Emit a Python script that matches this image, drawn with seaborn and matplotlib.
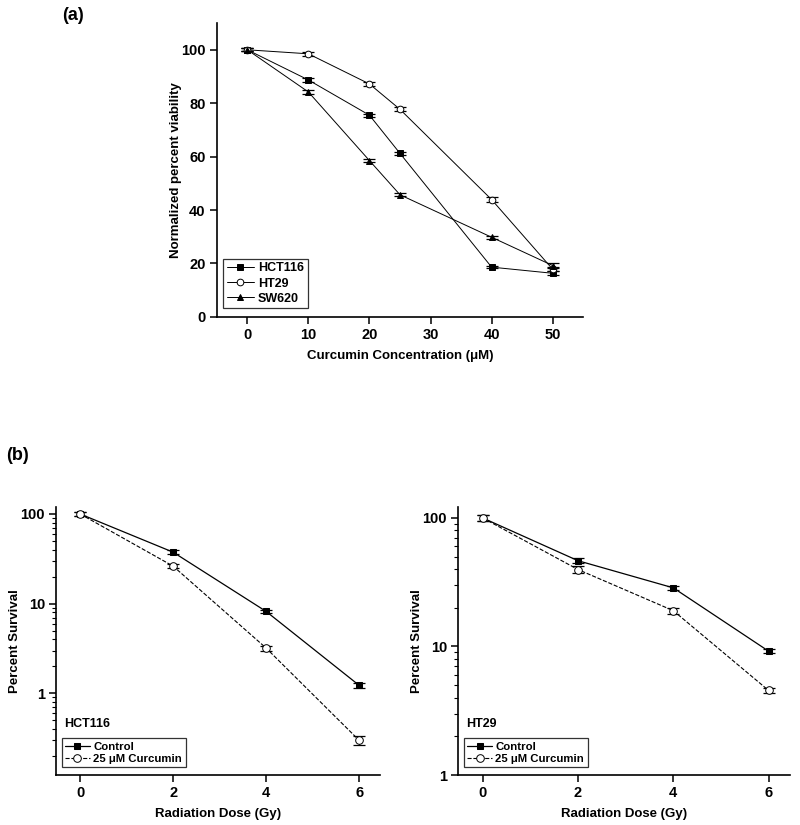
import matplotlib
matplotlib.use("Agg")
import matplotlib.pyplot as plt
import matplotlib.ticker as mticker
import seaborn as sns
import numpy as np
import pandas as pd

sns.set_theme(style="ticks")
plt.rcParams['font.family'] = ['Liberation Sans', 'DejaVu Sans']
plt.rcParams['font.weight'] = 'bold'
plt.rcParams['axes.labelweight'] = 'bold'
plt.rcParams['text.color'] = 'black'
plt.rcParams['axes.labelcolor'] = 'black'
plt.rcParams['xtick.color'] = 'black'
plt.rcParams['ytick.color'] = 'black'

# ---- Panel (a) data ----
conc = [0, 10, 20, 25, 40, 50]
hct116_via = [100, 88.7, 75.5, 61.2, 18.6, 16.3]
ht29_via = [100, 98.5, 87.2, 77.7, 43.9, 17.8]
sw620_via = [100, 84.2, 58.5, 45.7, 29.8, 19.2]
hct116_err = [0.6, 0.6, 0.5, 0.6, 0.5, 0.8]
ht29_err = [0.6, 0.7, 0.6, 0.8, 0.8, 0.8]
sw620_err = [0.6, 0.6, 0.6, 0.6, 0.6, 0.8]

# ---- Panel (b) data ----
dose = [0, 2, 4, 6]
hct_control = [100, 37.5, 8.2, 1.23]
hct_curc = [100, 26.2, 3.2, 0.30]
hct_control_err = [4, 1.8, 0.4, 0.08]
hct_curc_err = [4, 1.5, 0.2, 0.035]
ht29_control = [100, 46.5, 28.6, 9.2]
ht29_curc = [100, 39.7, 19.0, 4.55]
ht29_control_err = [5, 2.0, 1.2, 0.3]
ht29_curc_err = [5, 2.5, 1.0, 0.2]

fig = plt.figure(figsize=(8, 8.25), dpi=100)

def style_axes(ax):
    sns.despine(ax=ax)
    for s in ['left', 'bottom']:
        ax.spines[s].set_linewidth(1.2)
        ax.spines[s].set_color('black')
    ax.tick_params(axis='both', which='major', direction='out', length=5, width=1.1,
                   labelsize=10.5, colors='black', pad=3)
    ax.tick_params(axis='both', which='minor', direction='out', length=3, width=0.8)
    for lab in ax.get_xticklabels() + ax.get_yticklabels():
        lab.set_fontweight('bold')

# ---------- Panel (a) ----------
axa = fig.add_axes([0.271, 0.616, 0.458, 0.356])
series_a = [("HCT116", hct116_via, hct116_err, 's', 'black'),
            ("HT29", ht29_via, ht29_err, 'o', 'white'),
            ("SW620", sw620_via, sw620_err, '^', 'black')]
for name, vals, errs, mk, fc in series_a:
    df = pd.DataFrame({"x": conc, "y": vals})
    axa.errorbar(conc, vals, yerr=errs, fmt='none', ecolor='black', elinewidth=0.8,
                 capsize=4, capthick=0.9, zorder=2)
    sns.lineplot(data=df, x="x", y="y", ax=axa, color='black', linewidth=0.7,
                 marker=mk, markersize=4.8, markerfacecolor=fc, markeredgecolor='black',
                 markeredgewidth=0.7, label=name, zorder=3)
axa.set_xlim(-5, 55)
axa.set_ylim(0, 110)
axa.set_xticks([0, 10, 20, 30, 40, 50])
axa.set_yticks([0, 20, 40, 60, 80, 100])
axa.set_xlabel("Curcumin Concentration (μM)", fontsize=9.5, fontweight='bold', labelpad=6)
axa.set_ylabel("Normalized percent viability", fontsize=9.5, fontweight='bold')
axa.yaxis.set_label_coords(-0.096, 0.5)
style_axes(axa)
leg = axa.legend(loc='lower left', bbox_to_anchor=(0.01, 0.02), frameon=True, fancybox=False,
                 edgecolor='black', fontsize=9, handlelength=2.2, handletextpad=0.3,
                 borderpad=0.3, labelspacing=0.25, borderaxespad=0.2)
leg.get_frame().set_linewidth(0.9)
for t in leg.get_texts():
    t.set_fontweight('bold')
    t.set_color('black')

fig.text(0.078, 0.981, "(a)", fontsize=13, fontweight='bold', ha='left', va='center')
fig.text(0.008, 0.448, "(b)", fontsize=13, fontweight='bold', ha='left', va='center')

# ---------- Panel (b) ----------
def survival_panel(rect, ctrl, ctrl_err, curc, curc_err, ylim, title, ylab_x):
    ax = fig.add_axes(rect)
    ax.set_yscale('log')
    ax.errorbar(dose, ctrl, yerr=ctrl_err, fmt='none', ecolor='black', elinewidth=0.8,
                capsize=4, capthick=0.9, zorder=2)
    ax.errorbar(dose, curc, yerr=curc_err, fmt='none', ecolor='black', elinewidth=0.8,
                capsize=4, capthick=0.9, zorder=2)
    sns.lineplot(x=dose, y=ctrl, ax=ax, color='black', linewidth=0.9, marker='s',
                 markersize=5, markerfacecolor='black', markeredgecolor='black',
                 label="Control", zorder=3)
    sns.lineplot(x=dose, y=curc, ax=ax, color='black', linewidth=0.8, linestyle='--',
                 dashes=(4, 3), marker='o', markersize=5.5, markerfacecolor='white',
                 markeredgecolor='black', markeredgewidth=0.7,
                 label="25 μM Curcumin", zorder=3)
    ax.set_xlim(-0.52, 6.45)
    ax.set_ylim(*ylim)
    ax.set_xticks([0, 2, 4, 6])
    ax.yaxis.set_major_locator(mticker.LogLocator(base=10, numticks=10))
    ax.yaxis.set_minor_locator(mticker.LogLocator(base=10, subs=np.arange(2, 10), numticks=10))
    ax.yaxis.set_major_formatter(mticker.FuncFormatter(lambda v, p: f"{v:g}"))
    ax.yaxis.set_minor_formatter(mticker.NullFormatter())
    ax.set_xlabel("Radiation Dose (Gy)", fontsize=9.5, fontweight='bold', labelpad=6)
    ax.set_ylabel("Percent Survival", fontsize=9.5, fontweight='bold')
    ax.yaxis.set_label_coords(ylab_x, 0.5)
    style_axes(ax)
    leg = ax.legend(loc='lower left', bbox_to_anchor=(0.01, 0.02), frameon=True,
                    fancybox=False, edgecolor='black', fontsize=8.2, handlelength=2.2,
                    handletextpad=0.3, borderpad=0.3, labelspacing=0.2, borderaxespad=0.2)
    leg.get_frame().set_linewidth(0.9)
    for t in leg.get_texts():
        t.set_fontweight('bold')
        t.set_color('black')
    ax.text(0.025, 0.19, title, transform=ax.transAxes, fontsize=9, fontweight='bold',
            ha='left', va='center')
    return ax

survival_panel([0.07, 0.0606, 0.405, 0.325], hct_control, hct_control_err,
               hct_curc, hct_curc_err, (0.123, 120), "HCT116", -0.108)
survival_panel([0.5725, 0.0606, 0.415, 0.325], ht29_control, ht29_control_err,
               ht29_curc, ht29_curc_err, (1, 122), "HT29", -0.105)

fig.savefig("out.png", dpi=100)
